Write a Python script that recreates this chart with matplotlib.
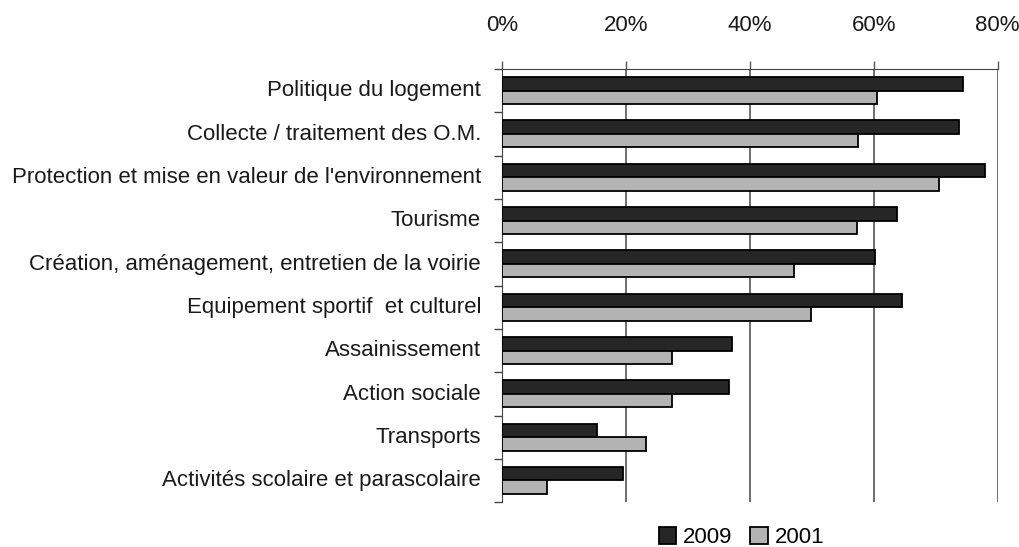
import matplotlib

matplotlib.use('Agg')
import matplotlib.pyplot as plt
import numpy as np

# Données
categories = [
    'Politique du logement',
    'Collecte / traitement des O.M.',
    "Protection et mise en valeur de l'environnement",
    'Tourisme',
    'Création, aménagement, entretien de la voirie',
    'Equipement sportif  et culturel',
    'Assainissement',
    'Action sociale',
    'Transports',
    'Activités scolaire et parascolaire',
]
vals_2009 = [74.4, 73.8, 78.0, 63.8, 60.2, 64.5, 37.2, 36.6, 15.4, 19.5]
vals_2001 = [60.5, 57.4, 70.6, 57.3, 47.1, 49.9, 27.4, 27.4, 23.3, 7.3]
x_ticks = [0, 20, 40, 60, 80]

plt.rcParams['font.family'] = ['Liberation Sans', 'DejaVu Sans']
fs = 16

fig = plt.figure(figsize=(10.2, 5.47), dpi=100)
ax = fig.add_axes([0.492, 0.082, 0.486, 0.792])

n = len(categories)
y = np.arange(n)
h = 0.31

ax.barh(y - h / 2, vals_2009, height=h, color='#262626', edgecolor='black',
        linewidth=1.3, label='2009', zorder=3)
ax.barh(y + h / 2, vals_2001, height=h, color='#b3b3b3', edgecolor='black',
        linewidth=1.3, label='2001', zorder=3)

ax.set_xlim(0, 80)
ax.set_ylim(n - 0.5, -0.5)

# axe des x en haut
ax.xaxis.tick_top()
ax.set_xticks(x_ticks)
ax.set_xticklabels([f'{v}%' for v in x_ticks])
ax.tick_params(axis='x', length=6, width=1, color='#555555', pad=18,
               labelsize=fs, labelcolor='#1a1a1a')
ax.grid(axis='x', color='#555555', linewidth=1.2, zorder=0)

# étiquettes des catégories, ticks aux limites
ax.set_yticks(y - 0.05, minor=True)
ax.set_yticklabels(categories, minor=True)
ax.set_yticks(np.arange(n + 1) - 0.5)
ax.set_yticklabels([])
ax.tick_params(axis='y', which='major', length=6, width=1, color='#444444')
ax.tick_params(axis='y', which='minor', length=0, pad=15, labelsize=fs,
               labelcolor='#1a1a1a')

for side in ['right', 'bottom']:
    ax.spines[side].set_visible(False)
ax.spines['left'].set_color('#444444')
ax.spines['top'].set_color('#444444')

fig.legend(loc='lower center', bbox_to_anchor=(0.727, -0.038), ncol=2,
           frameon=False, fontsize=fs, handlelength=0.8, handleheight=0.8,
           handletextpad=0.3, columnspacing=0.8)

plt.savefig('out.png', dpi=100)
plt.close(fig)
